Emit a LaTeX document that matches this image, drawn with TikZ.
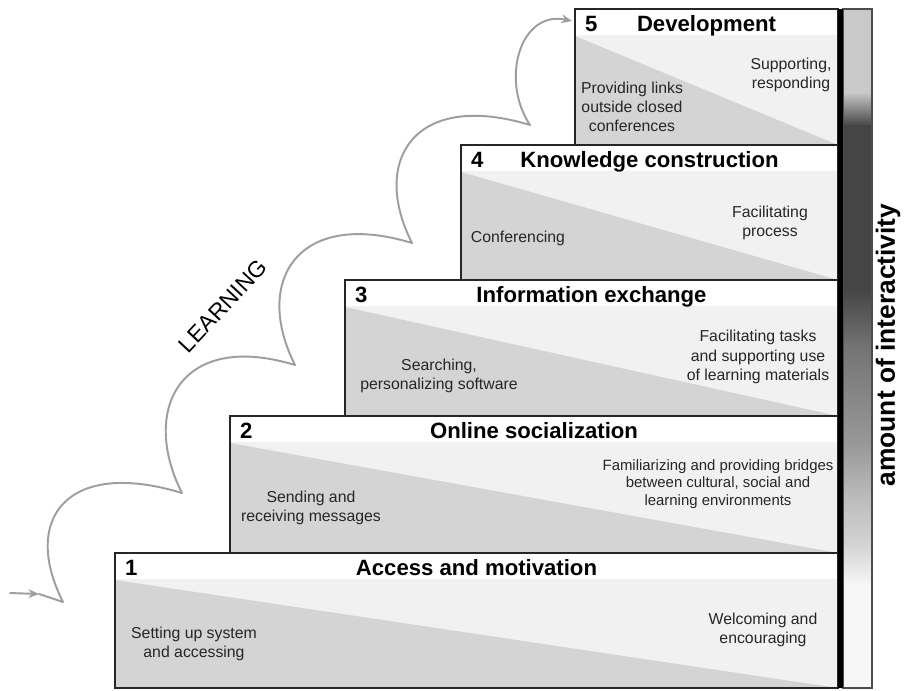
\documentclass[tikz,border=0pt]{standalone}
\usepackage{fontspec}
\setmainfont{Liberation Sans}
\usepackage{tikz}
\usetikzlibrary{arrows.meta,calc}

\definecolor{lightpart}{gray}{0.945}
\definecolor{darkpart}{gray}{0.83}
\definecolor{curvegray}{gray}{0.62}
\definecolor{barA}{gray}{0.79}
\definecolor{barB}{gray}{0.27}
\definecolor{barC}{gray}{0.45}
\definecolor{barD}{gray}{0.60}
\definecolor{barE}{gray}{0.73}
\definecolor{barF}{gray}{0.83}
\definecolor{barG}{gray}{0.97}

\begin{document}
\begin{tikzpicture}[x=0.02cm,y=-0.02cm,
    stepline/.style={draw=black!85,line width=0.8pt},
    num/.style={anchor=base west,font=\fontsize{12.6}{14}\selectfont\bfseries},
    title/.style={anchor=base,font=\fontsize{12.6}{14}\selectfont\bfseries},
    task/.style={align=center,text=black!85,inner sep=0pt,font=\fontsize{9}{11}\selectfont},
    learn/.style={draw=curvegray,line width=1.1pt,line cap=round,line join=round}]
    \useasboundingbox (0,0) rectangle (905,690);
    \fill[white] (0,0) rectangle (905,690);

    \foreach \st/\xl/\yt/\yb/\ttl in {1/115/553/688/Access and motivation,
        2/230/416/553/Online socialization, 3/345/280/416/Information exchange,
        4/461/145/280/Knowledge construction, 5/575/9/145/Development} {
        \fill[lightpart] (\xl,\yt+26) rectangle (838,\yb);
        \fill[darkpart] (\xl,\yt+27) -- (838,\yb) -- (\xl,\yb) -- cycle;
        \draw[stepline] (\xl,\yt) rectangle (838,\yb);
        \node[num] (n\st) at (\xl+4,\yt+22) {\st};
        \node[title] (title\st) at ({(\xl+838)/2},\yt+22) {\ttl};
    }

    \node[task] (left5) at (632,107) {Providing links\\outside closed\\conferences};
    \node[task] (right5) at (791,75) {Supporting,\\responding};
    \node[task] (left4) at (518,238) {Conferencing};
    \node[task] (right4) at (770,223) {Facilitating\\process};
    \node[task] (left3) at (439,376) {Searching,\\personalizing software};
    \node[task] (right3) at (758,357) {Facilitating tasks\\and supporting use\\of learning materials};
    \node[task] (left2) at (311,508) {Sending and\\receiving messages};
    \node[task,font=\fontsize{8.5}{10}\selectfont] (right2) at (718,484) {Familiarizing and providing bridges\\between cultural, social and\\learning environments};
    \node[task] (left1) at (194,644) {Setting up system\\and accessing};
    \node[task] (right1) at (763,630) {Welcoming and\\encouraging};

    \foreach \ya/\yb/\ca/\cb in {9/92/barA/barA, 92/125/barA/barB, 125/290/barB/barB,
        290/345/barB/barC, 345/445/barC/barD, 445/495/barD/barE, 495/545/barE/barF,
        545/585/barF/barG, 585/688/barG/barG} {
        \shade[top color=\ca,bottom color=\cb] (843,\ya) rectangle (872,\yb+1);
    }
    \draw[black!70,line width=0.6pt] (843,9) rectangle (872,688);
    \draw[line width=2.3pt] (840.5,9) -- (840.5,688);
    \node[rotate=90,font=\fontsize{15}{17}\selectfont\bfseries] (interactivity) at (888,345) {amount of interactivity};

    \node[rotate=47,font=\fontsize{13}{15}\selectfont] (learning) at (223,306) {LEARNING};
    \coordinate (start) at (10,593);
    \coordinate (tail) at (39,594);
    \coordinate (c0) at (63,602);
    \coordinate (c1) at (182,493);
    \coordinate (c2) at (295,365);
    \coordinate (c3) at (412,243);
    \coordinate (c4) at (530,125);
    \coordinate (top) at (572,21);
    \draw[learn,-{Stealth[length=6pt,width=5pt]}] (start) -- (tail);
    \draw[learn,-{Stealth[length=6pt,width=5pt]}] (tail) -- (c0)
        .. controls +(-42,-83) and +(-115,-35) .. (c1)
        .. controls +(-42,-83) and +(-115,-35) .. (c2)
        .. controls +(-42,-83) and +(-115,-35) .. (c3)
        .. controls +(-42,-83) and +(-115,-35) .. (c4)
        .. controls +(-30,-45) and +(-52,-11) .. (top);
\end{tikzpicture}
\end{document}
